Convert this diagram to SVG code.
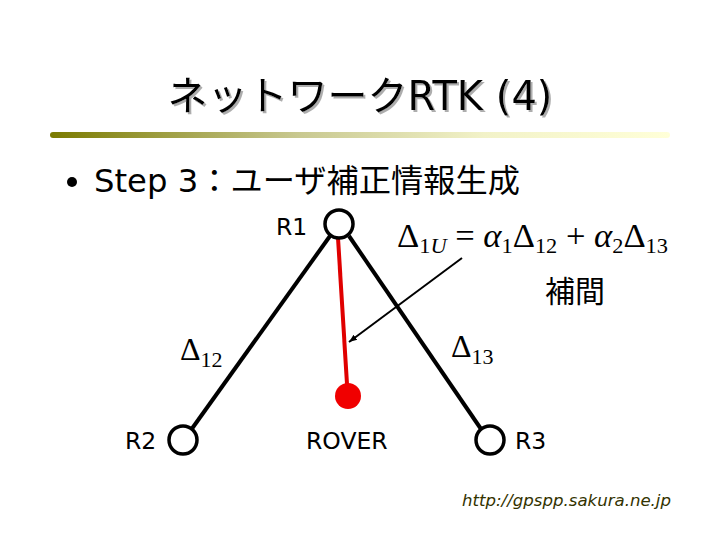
<svg xmlns="http://www.w3.org/2000/svg" width="720" height="540" viewBox="0 0 720 540">
<defs>
<linearGradient id="bar" x1="0" y1="0" x2="1" y2="0">
<stop offset="0" stop-color="#7a7a00"/>
<stop offset="0.4" stop-color="#c8c890"/>
<stop offset="0.7" stop-color="#f2f2c8"/>
<stop offset="1" stop-color="#ffffd8"/>
</linearGradient>
<filter id="shadow" x="-5%" y="-20%" width="110%" height="140%">
<feDropShadow dx="2" dy="2" stdDeviation="0.6" flood-color="#999" flood-opacity="0.8"/>
</filter>
<marker id="arr" viewBox="0 0 10 10" refX="10" refY="5" markerWidth="8" markerHeight="8" orient="auto" markerUnits="userSpaceOnUse">
<path d="M0,1 L10,5 L0,9 Z" fill="#000"/>
</marker>
</defs>
<style>
.jp{font-family:"DejaVu Sans","Noto Sans CJK JP",sans-serif;fill:#000}
.lbl{font-family:"DejaVu Sans",sans-serif;font-size:23.5px;fill:#000}
.math{font-family:"Liberation Serif",serif;fill:#000}
.node{fill:#fff;stroke:#000;stroke-width:3.5}
.edge{stroke:#000;stroke-width:4;fill:none}
</style>
<rect width="720" height="540" fill="#fff"/>
<g id="title">
<text x="360" y="110" text-anchor="middle" class="jp" font-size="40" filter="url(#shadow)">ネットワークRTK (4)</text>
<rect x="50" y="132" width="620" height="6" rx="3" fill="url(#bar)"/>
</g>
<g id="bullet">
<circle cx="72" cy="182" r="5" fill="#000"/>
<text x="94" y="192" class="jp" font-size="32" textLength="426" lengthAdjust="spacingAndGlyphs">Step 3：ユーザ補正情報生成</text>
</g>
<g id="connectors">
<line class="edge" x1="330" y1="236" x2="191" y2="430"/>
<line class="edge" x1="349" y1="236" x2="481" y2="429"/>
<line x1="338" y1="238" x2="347" y2="384" stroke="#e00000" stroke-width="4"/>
<line x1="462" y1="258" x2="349" y2="342" stroke="#000" stroke-width="2" marker-end="url(#arr)"/>
</g>
<g id="R1">
<circle class="node" cx="339" cy="224" r="14"/>
<text class="lbl" x="276" y="235">R1</text>
</g>
<g id="R2">
<circle class="node" cx="183" cy="440" r="14"/>
<text class="lbl" x="125" y="449">R2</text>
</g>
<g id="R3">
<circle class="node" cx="490" cy="440" r="14"/>
<text class="lbl" x="515" y="449">R3</text>
</g>
<g id="ROVER">
<circle cx="348" cy="396" r="13" fill="#f00000"/>
<text class="lbl" x="306" y="449">ROVER</text>
</g>
<g id="formula">
<text class="math" x="397" y="247" font-size="34" textLength="271" lengthAdjust="spacingAndGlyphs">Δ<tspan font-size="22" dy="6">1</tspan><tspan font-size="22" font-style="italic">U</tspan><tspan dy="-6"> = </tspan><tspan font-style="italic">α</tspan><tspan font-size="22" dy="6">1</tspan><tspan dy="-6">Δ</tspan><tspan font-size="22" dy="6">12</tspan><tspan dy="-6"> + </tspan><tspan font-style="italic">α</tspan><tspan font-size="22" dy="6">2</tspan><tspan dy="-6">Δ</tspan><tspan font-size="22" dy="6">13</tspan></text>
</g>
<g id="hokan">
<text class="jp" x="545" y="302" font-size="30">補間</text>
</g>
<g id="d12">
<text class="math" x="180" y="360" font-size="32">Δ<tspan font-size="22" dy="7">12</tspan></text>
</g>
<g id="d13">
<text class="math" x="451" y="357" font-size="32">Δ<tspan font-size="22" dy="7">13</tspan></text>
</g>
<g id="url">
<text x="462" y="506" font-family="DejaVu Sans, sans-serif" font-style="italic" font-size="16.5" fill="#333300" textLength="209" lengthAdjust="spacingAndGlyphs">http://gpspp.sakura.ne.jp</text>
</g>
</svg>
